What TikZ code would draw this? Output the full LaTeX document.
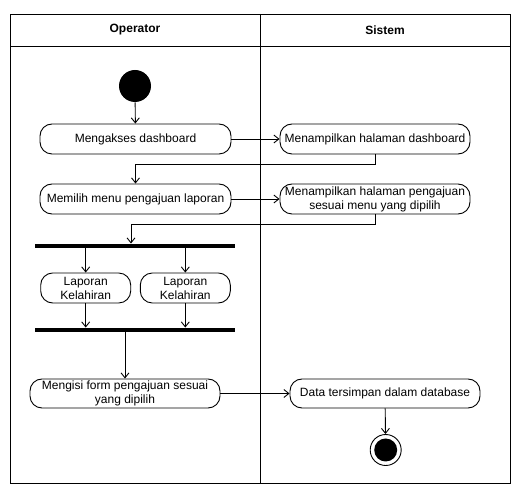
\documentclass[tikz,border=0pt]{standalone}
\usepackage{fontspec}
\setmainfont{Liberation Sans}
\usetikzlibrary{arrows.meta}
\begin{document}
\begin{tikzpicture}[
    x=1pt,y=-1pt,
    line width=0.9pt,
    font=\fontsize{12}{14}\selectfont,
    act/.style={draw, rounded corners=12pt, minimum height=30, inner sep=0pt, align=center},
    bar/.style={fill=black, inner sep=0pt, minimum width=200, minimum height=4},
    arr/.style={-{Straight Barb[length=5pt,width=8pt]}}
    ]
	\useasboundingbox (0,0) rectangle (520,494);
	\draw (10,14) rectangle (510,483);
	\draw (10,46) -- (510,46);
	\draw (260,14) -- (260,483);
	\node (operator) at (135,30) {\bfseries Operator};
	\node (sistem) at (385,30) {\bfseries Sistem};
	\node [circle, fill=black, minimum size=32] (start) at (135,86) {};
	\node [act, minimum width=191] (akses) at (135.5,139) {Mengakses dashboard};
	\node [act, minimum width=190] (dash) at (375,139) {Menampilkan halaman dashboard};
	\node [act, minimum width=191] (pilih) at (135.5,199) {Memilih menu pengajuan laporan};
	\node [act, minimum width=190] (tampil) at (375,199) {Menampilkan halaman pengajuan\\sesuai menu yang dipilih};
	\node [bar] (fork) at (135,246) {};
	\node [act, minimum width=90] (lapa) at (85.7,288) {Laporan\\Kelahiran};
	\node [act, minimum width=90] (lapb) at (185.3,288) {Laporan\\Kelahiran};
	\node [bar] (join) at (135,330) {};
	\node [act, minimum width=190, minimum height=29] (isi) at (125,393.5) {Mengisi form pengajuan sesuai\\yang dipilih};
	\node [act, minimum width=190, minimum height=29] (simpan) at (385,393.5) {Data tersimpan dalam database};
	\node [circle, draw, minimum size=31] (akhir) at (385.7,450) {};
	\node [circle, fill=black, minimum size=23] (akhirdot) at (akhir) {};
	\draw [arr] (start) -- (akses);
	\draw [arr] (akses) -- (dash);
	\draw [arr] (dash.south) -- ++(0,10) -| (pilih.north);
	\draw [arr] (pilih) -- (tampil);
	\draw [arr] (tampil.south) -- ++(0,10) -| ([xshift=-4pt]fork.north);
	\draw [arr] (fork.south -| lapa) -- (lapa);
	\draw [arr] (fork.south -| lapb) -- (lapb);
	\draw [arr] (lapa) -- (lapa |- join.north);
	\draw [arr] (lapb) -- (lapb |- join.north);
	\draw [arr] (join.south -| isi) -- (isi);
	\draw [arr] (isi) -- (simpan);
	\draw [arr] (simpan) -- (akhir);
\end{tikzpicture}
\end{document}
